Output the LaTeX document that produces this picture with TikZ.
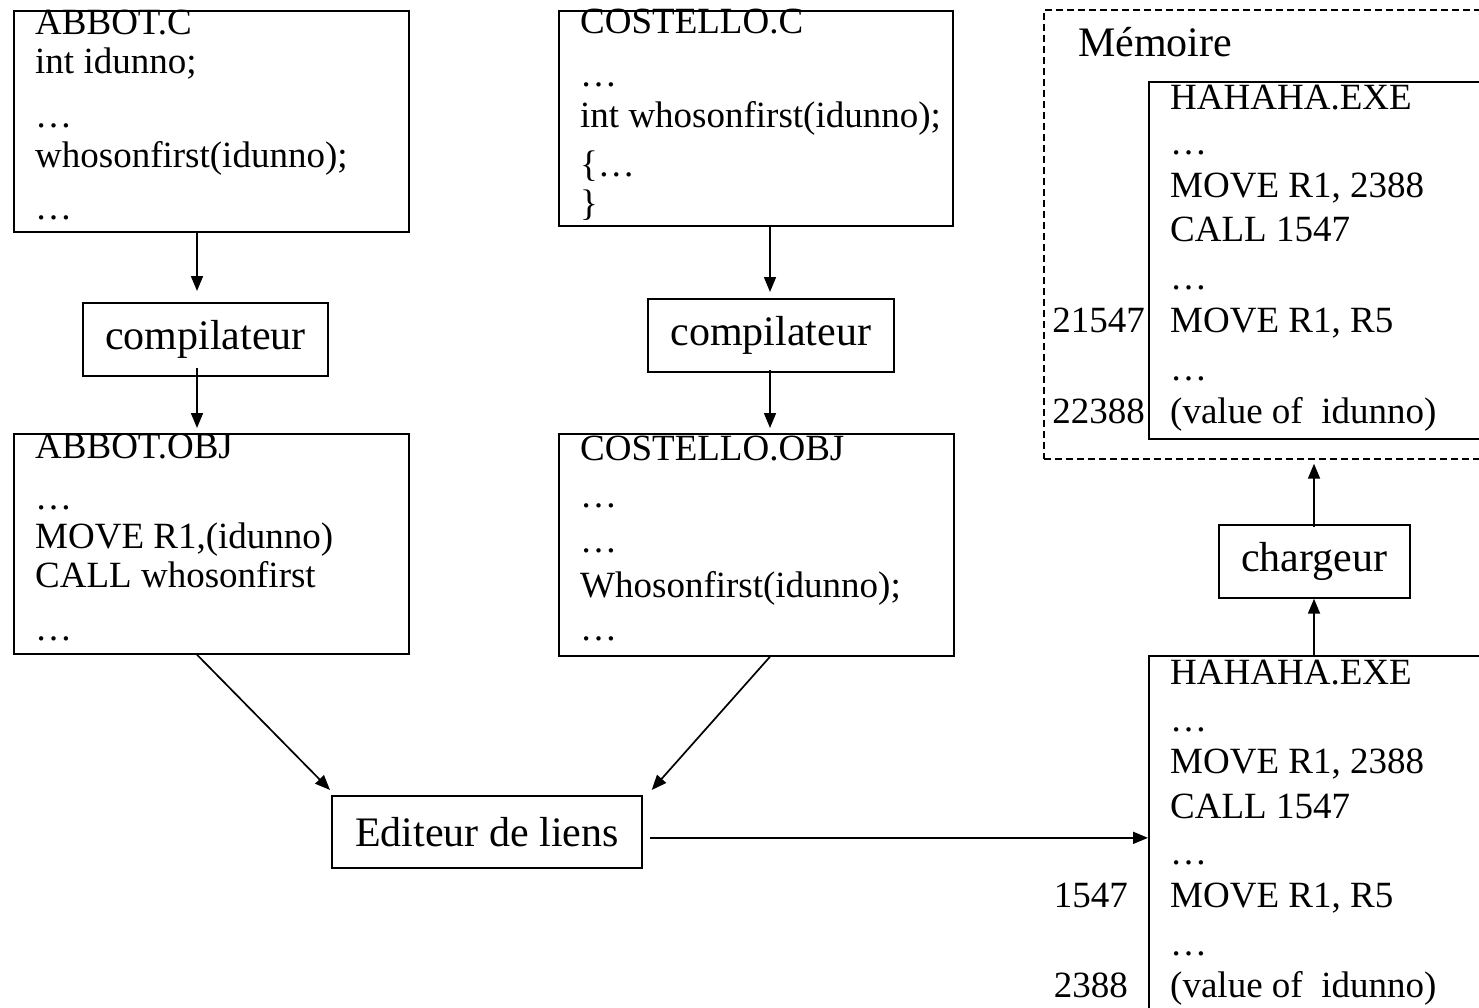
\documentclass[tikz,border=0pt]{standalone}
\usepackage{fontspec}
\setmainfont{Liberation Serif}
\usetikzlibrary{arrows.meta}
% one line of code text, set at its baseline
\newcommand\codeat[4]{\node[code] (#1) at (#2,#3) {#4};}
\newcommand\addrat[4]{\node[addr] (#1) at (#2,#3) {#4};}
\begin{document}
\begin{tikzpicture}[x=1pt,y=-1pt,
  box/.style={draw,line width=1.7pt,rectangle,inner sep=0pt,anchor=north west},
  tool/.style={draw,line width=1.7pt,rectangle,inner sep=0pt,anchor=north west,
    font=\fontsize{42}{50}\selectfont},
  mem/.style={draw,line width=1.7pt,rectangle,inner sep=0pt,anchor=north west,
    dash pattern=on 7pt off 4pt},
  code/.style={font=\fontsize{37}{44}\selectfont,inner sep=0pt,anchor=base west},
  addr/.style={font=\fontsize{37}{44}\selectfont,inner sep=0pt,anchor=base east},
  arr/.style={-{Triangle[length=15pt,width=12pt]},line width=1.7pt}]
\useasboundingbox (0,0) rectangle (1479,1008);
\clip (0,0) rectangle (1479,1008);

% ---------- source files ----------
\node[box,minimum width=395pt,minimum height=221pt] (abc) at (13,10) {};
\codeat{a1}{35}{35}{ABBOT.C}
\codeat{a2}{35}{74}{int idunno;}
\codeat{a3}{35}{128}{…}
\codeat{a4}{35}{168}{whosonfirst(idunno);}
\codeat{a5}{35}{220}{…}

\node[box,minimum width=394pt,minimum height=215pt] (coc) at (558,10) {};
\codeat{b1}{580}{34}{COSTELLO.C}
\codeat{b2}{580}{87}{…}
\codeat{b3}{580}{128}{int whosonfirst(idunno);}
\codeat{b4}{580}{177}{\{…}
\codeat{b5}{580}{216}{\}}

% ---------- compilers ----------
\node[tool,minimum width=245pt,minimum height=73pt] (cmp1) at (82,302) {compilateur};
\node[tool,minimum width=246pt,minimum height=73pt] (cmp2) at (647,298) {compilateur};

% ---------- object files ----------
\node[box,minimum width=395pt,minimum height=220pt] (abo) at (13,433) {};
\codeat{c1}{35}{458}{ABBOT.OBJ}
\codeat{c2}{35}{509}{…}
\codeat{c3}{35}{548}{MOVE R1,(idunno)}
\codeat{c4}{35}{587}{CALL whosonfirst}
\codeat{c5}{35}{640}{…}

\node[box,minimum width=395pt,minimum height=222pt] (cob) at (558,433) {};
\codeat{d1}{580}{460}{COSTELLO.OBJ}
\codeat{d2}{580}{507}{…}
\codeat{d3}{580}{552}{…}
\codeat{d4}{580}{597}{Whosonfirst(idunno);}
\codeat{d5}{580}{640}{…}

% ---------- linker ----------
\node[tool,minimum width=310pt,minimum height=72pt] (ed) at (331,795) {Editeur de liens};

% ---------- executable on disk ----------
\node[box,minimum width=400pt,minimum height=420pt] (exe2) at (1148,655) {};
\codeat{e1}{1170}{684}{HAHAHA.EXE}
\codeat{e2}{1170}{731}{…}
\codeat{e3}{1170}{773}{MOVE R1, 2388}
\codeat{e4}{1170}{818}{CALL 1547}
\codeat{e5}{1170}{864}{…}
\codeat{e6}{1170}{907}{MOVE R1, R5}
\codeat{e7}{1170}{955}{…}
\codeat{e8}{1170}{997}{(value of \ idunno)}
\addrat{ea1}{1128}{907}{1547}
\addrat{ea2}{1128}{997}{2388}

% ---------- loader ----------
\node[tool,minimum width=191pt,minimum height=73pt] (chg) at (1218,524) {chargeur};

% ---------- memory ----------
\node[mem,minimum width=500pt,minimum height=449pt] (mem) at (1043,9) {};
\node[font=\fontsize{42}{50}\selectfont,inner sep=0pt,anchor=base west] (memt) at (1078,57) {Mémoire};
\node[box,minimum width=400pt,minimum height=357pt] (exe1) at (1148,81) {};
\codeat{f1}{1170}{110}{HAHAHA.EXE}
\codeat{f2}{1170}{155}{…}
\codeat{f3}{1170}{198}{MOVE R1, 2388}
\codeat{f4}{1170}{242}{CALL 1547}
\codeat{f5}{1170}{289}{…}
\codeat{f6}{1170}{332}{MOVE R1, R5}
\codeat{f7}{1170}{380}{…}
\codeat{f8}{1170}{423}{(value of \ idunno)}
\addrat{fa1}{1145}{332}{21547}
\addrat{fa2}{1145}{423}{22388}

% ---------- connectors ----------
\coordinate (colA) at (197,0);
\coordinate (colB) at (770,0);
\coordinate (colC) at (1314,0);
\draw[arr,shorten >=11pt] (abc.south -| colA) -- (cmp1.north -| colA);
\draw[arr,shorten <=-9pt,shorten >=5pt] (cmp1.south -| colA) -- (abo.north -| colA);
\draw[arr,shorten >=6pt] (coc.south -| colB) -- (cmp2.north -| colB);
\draw[arr,shorten <=-3pt,shorten >=5pt] (cmp2.south -| colB) -- (cob.north -| colB);
\draw[arr] (abo.south -| colA) -- ([xshift=-1pt,yshift=5pt]ed.north west);
\draw[arr] (cob.south -| colB) -- ([xshift=9pt,yshift=5pt]ed.north east);
\coordinate (hs) at ([xshift=7pt,yshift=-6pt]ed.east);
\draw[arr] (hs) -- (hs -| exe2.west);
\draw[arr] (exe2.north -| colC) -- (chg.south -| colC);
\draw[arr,shorten <=-3pt,shorten >=4pt] (chg.north -| colC) -- (mem.south -| colC);
\end{tikzpicture}
\end{document}
